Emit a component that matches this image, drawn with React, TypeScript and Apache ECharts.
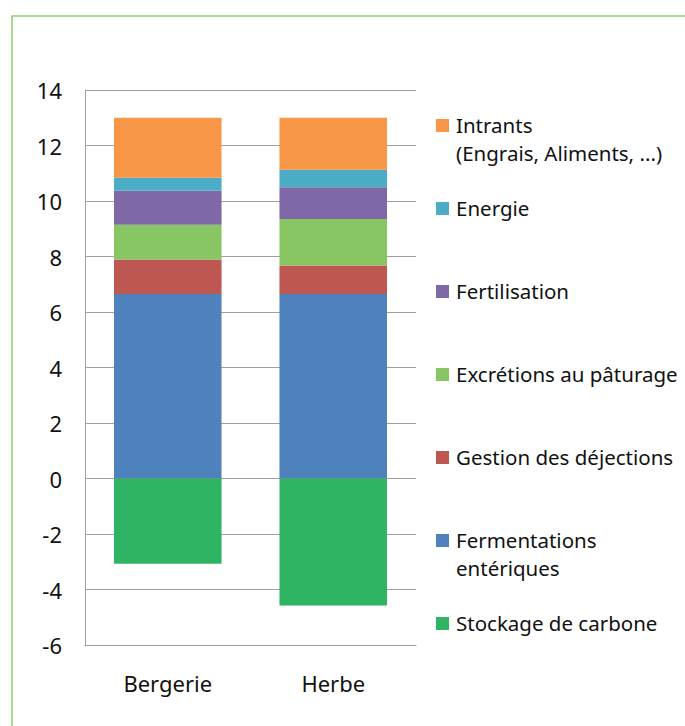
import React, { useEffect, useRef } from "react";
import * as echarts from "echarts";

const categories = ["Bergerie", "Herbe"];
const seriesNames = [
  "Fermentations\nentériques",
  "Gestion des déjections",
  "Excrétions au pâturage",
  "Fertilisation",
  "Energie",
  "Intrants\n(Engrais, Aliments, ...)",
  "Stockage de carbone",
];
const seriesColors = ["#4F81BD", "#BE5652", "#87C662", "#7E68A6", "#4BACC6", "#F79646", "#2EB462"];
const fermentations = [6.65, 6.65];
const gestion = [1.24, 1.03];
const excretions = [1.25, 1.67];
const fertilisation = [1.23, 1.15];
const energie = [0.47, 0.63];
const intrants = [2.16, 1.87];
const stockage = [-3.07, -4.58];
const seriesValues = [fermentations, gestion, excretions, fertilisation, energie, intrants, stockage];
const legendOrder = [5, 4, 3, 2, 1, 0, 6];
const yTicks = [-6, -4, -2, 0, 2, 4, 6, 8, 10, 12, 14];

const FONT = "'Noto Sans', sans-serif";

export default function App() {
  const ref = useRef<HTMLDivElement>(null);
  useEffect(() => {
    if (!ref.current) return;
    const chart = echarts.init(ref.current, null, { renderer: "svg" });
    const legendGraphics: any[] = [];
    legendOrder.forEach((si, k) => {
      const cy = 125.5 + 83 * k;
      legendGraphics.push({
        type: "rect",
        shape: { x: 436, y: cy - 6.5, width: 13, height: 13 },
        style: { fill: seriesColors[si] },
      });
      legendGraphics.push({
        type: "text",
        x: 456,
        y: cy - 14.5,
        style: {
          text: seriesNames[si],
          font: `20.5px ${FONT}`,
          fill: "#111",
          verticalAlign: "top",
          lineHeight: 28,
        },
      });
    });
    chart.setOption({
      animation: false,
      textStyle: { fontFamily: FONT },
      grid: { left: 85, right: 269, top: 90, bottom: 81 },
      xAxis: {
        type: "category",
        data: categories,
        axisLine: { onZero: false, lineStyle: { color: "#a0a0a0", width: 1 } },
        axisTick: { show: false },
        axisLabel: { fontSize: 22, color: "#111", margin: 27, fontFamily: FONT },
      },
      yAxis: {
        type: "value",
        min: yTicks[0],
        max: yTicks[yTicks.length - 1],
        interval: 2,
        axisLine: { show: true, lineStyle: { color: "#a0a0a0", width: 1 } },
        axisTick: { show: false },
        splitLine: { lineStyle: { color: "#a0a0a0", width: 1 } },
        axisLabel: { fontSize: 22, color: "#111", margin: 23, fontFamily: FONT },
      },
      series: seriesValues.map((vals, i) => ({
        type: "bar",
        name: seriesNames[i],
        stack: "total",
        data: vals,
        barWidth: "65%",
        itemStyle: { color: seriesColors[i] },
      })),
      graphic: [
        {
          type: "polyline",
          shape: { points: [[12, 726], [12, 16], [685, 16]] },
          style: { stroke: "#8dd16f", lineWidth: 1.5, fill: "none" },
        },
        ...legendGraphics,
      ],
    });
    return () => chart.dispose();
  }, []);
  return (
    <div
      ref={ref}
      style={{ position: "fixed", left: 0, top: 0, width: 685, height: 726, background: "#fff" }}
    />
  );
}
